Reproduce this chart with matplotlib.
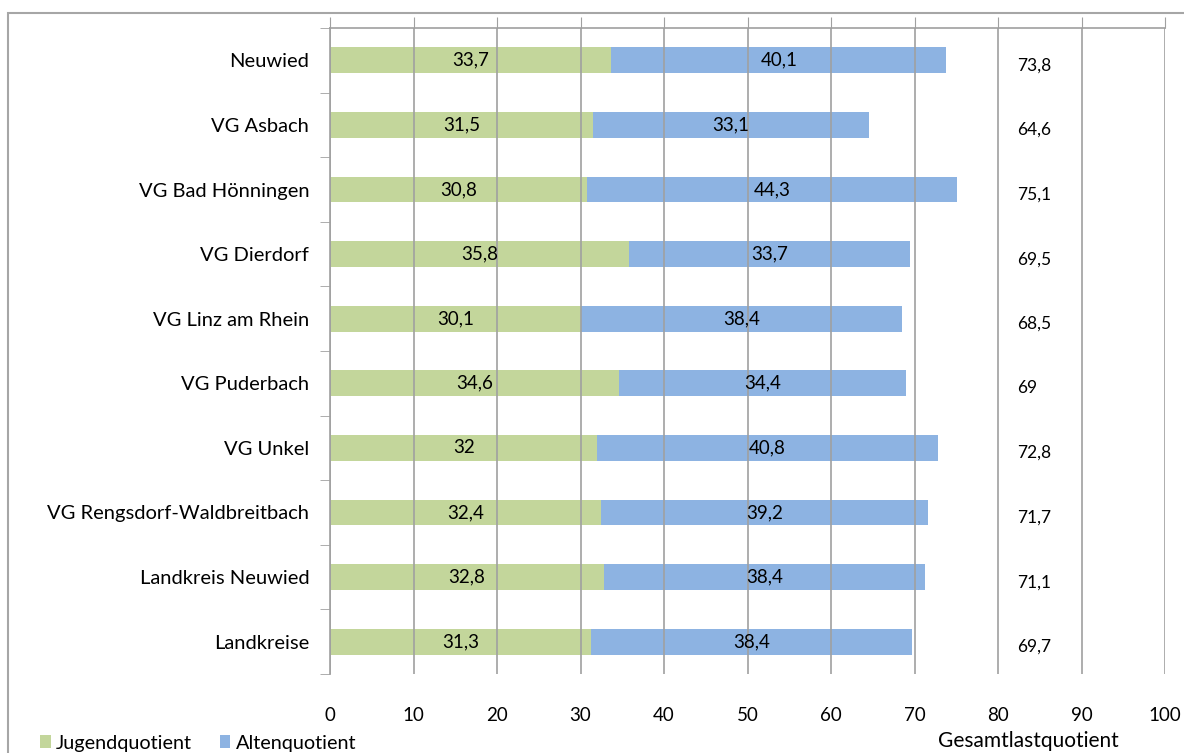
import matplotlib.pyplot as plt
from matplotlib.patches import Rectangle
import numpy as np

plt.rcParams['font.family'] = ['Lato', 'DejaVu Sans']

gebiete = ["Neuwied", "VG Asbach", "VG Bad Hönningen", "VG Dierdorf", "VG Linz am Rhein",
           "VG Puderbach", "VG Unkel", "VG Rengsdorf-Waldbreitbach", "Landkreis Neuwied",
           "Landkreise"]
jugend = [33.7, 31.5, 30.8, 35.8, 30.1, 34.6, 32, 32.4, 32.8, 31.3]
alten = [40.1, 33.1, 44.3, 33.7, 38.4, 34.4, 40.8, 39.2, 38.4, 38.4]
gesamt = [73.8, 64.6, 75.1, 69.5, 68.5, 69, 72.8, 71.7, 71.1, 69.7]

gruen = "#C3D69B"
blau = "#8DB3E2"
grau = "#A0A0A0"


def komma(v):
    return f"{v:g}".replace(".", ",")


fig = plt.figure(figsize=(11.84, 7.53), dpi=100)
ax = fig.add_axes([330 / 1184, 1 - 674 / 753, (1165 - 330) / 1184, (674 - 28) / 753])

y = np.arange(len(gebiete))
ax.barh(y, jugend, height=0.4, color=gruen, label="Jugendquotient", zorder=1)
ax.barh(y, alten, left=jugend, height=0.4, color=blau, label="Altenquotient", zorder=1)

for i in range(len(gebiete)):
    ax.text(jugend[i] / 2, i, komma(jugend[i]), ha="center", va="center", fontsize=13.5, zorder=3)
    ax.text(jugend[i] + alten[i] / 2, i, komma(alten[i]), ha="center", va="center", fontsize=13.5, zorder=3)
    ax.text(82.3, i + 0.08, komma(gesamt[i]), ha="left", va="center", fontsize=12.5, zorder=3)

ax.set_xlim(0, 100)
ax.set_ylim(len(gebiete) - 0.5, -0.5)
ax.set_xticks(np.arange(0, 101, 10))
ax.set_yticks(y)
ax.set_yticklabels(gebiete, fontsize=14.5)
ax.set_yticks(np.arange(-0.5, len(gebiete), 1), minor=True)
ax.tick_params(axis="y", which="major", length=0, pad=15)
ax.tick_params(axis="y", which="minor", length=7, color=grau, direction="out")
ax.tick_params(axis="x", which="major", bottom=False, top=True, length=8, color=grau,
               direction="out", labelsize=13.5, pad=16)
ax.xaxis.set_tick_params(labelbottom=True, labeltop=False)

ax.grid(axis="x", color=grau, linewidth=1.2, zorder=2)
ax.set_axisbelow(False)
for s in ["bottom", "right"]:
    ax.spines[s].set_visible(False)
ax.spines["left"].set_color(grau)
ax.spines["top"].set_color(grau)
ax.spines["left"].set_linewidth(1.2)
ax.spines["top"].set_linewidth(1.2)

fig.legend(loc="lower left", bbox_to_anchor=(22 / 1184, -0.022), ncol=2, frameon=False,
           fontsize=14.3, handlelength=0.55, handleheight=0.6, handletextpad=0.25,
           columnspacing=1.4)
fig.text(938 / 1184, 1 - 741 / 753, "Gesamtlastquotient", fontsize=15, va="center")

fig.add_artist(Rectangle((8 / 1184, -0.1), 1.2, 1.1 - 13 / 753, transform=fig.transFigure,
                         fill=False, edgecolor="#A6A6A6", linewidth=1.5))

fig.savefig("out.png", dpi=100)
